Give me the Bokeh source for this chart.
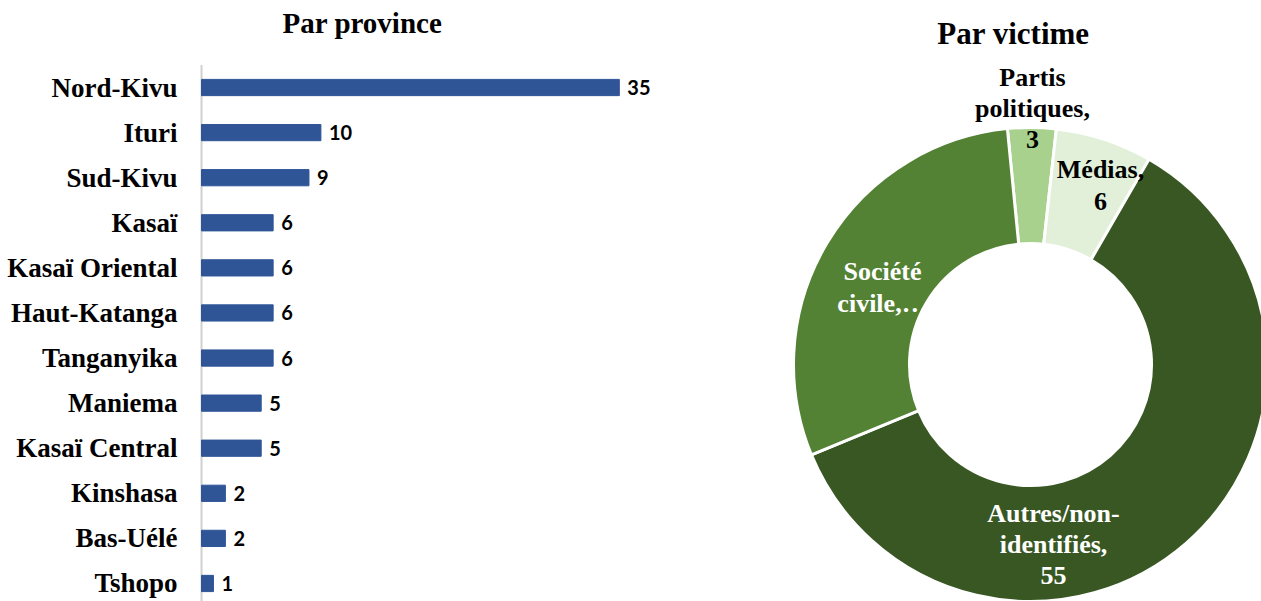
import math
from bokeh.plotting import figure
from bokeh.models import Range1d, ColumnDataSource, FixedTicker
from bokeh.layouts import row
from bokeh.embed import file_html
from bokeh.resources import INLINE
from bokeh.core.properties import value

# ---------------- data ----------------
provinces = ["Nord-Kivu", "Ituri", "Sud-Kivu", "Kasaï", "Kasaï Oriental", "Haut-Katanga",
             "Tanganyika", "Maniema", "Kasaï Central", "Kinshasa", "Bas-Uélé", "Tshopo"]
province_counts = [35, 10, 9, 6, 6, 6, 6, 5, 5, 2, 2, 1]

victims = ["Partis politiques", "Médias", "Autres/non-identifiés", "Société civile"]
victim_counts = [3, 6, 55, 27]
victim_label_fmt = ["Partis\npolitiques,\n{}", "Médias,\n{}", "Autres/non-\nidentifiés,\n{}", "Société\ncivile,…"]

title_left = "Par province"
title_right = "Par victime"

# ---------------- styles ----------------
SERIF = value("Liberation Serif")
BAR_COLOR = "#2F5597"
victim_colors = ["#A9D18E", "#E2F0D9", "#385723", "#548235"]
victim_text_colors = ["black", "black", "white", "white"]
# label anchor positions (donut pixel-like coordinates, centre = 0,0)
victim_label_pos = [(2, 256), (70, 179), (23, -180), (-148, 77)]

# ---------------- bar chart ----------------
n_prov = len(provinces)
ypos = [n_prov - 1 - i for i in range(n_prov)]
bar_src = ColumnDataSource(dict(y=ypos, n=province_counts,
                                lbl=[str(v) for v in province_counts]))

p = figure(width=700, height=601, output_backend="svg", toolbar_location=None,
           x_range=Range1d(-0.17, 41.8), y_range=Range1d(-0.40, 12.93),
           min_border_left=199, min_border_right=0, min_border_top=0, min_border_bottom=0)
# axis line (light grey vertical rule)
p.segment(x0=[0], y0=[-0.40], x1=[0], y1=[n_prov - 0.5], line_color="#D0D0D0", line_width=2)
p.hbar(y="y", right="n", left=0, height=0.36, source=bar_src,
       fill_color=BAR_COLOR, line_color=BAR_COLOR)
p.text(x="n", y="y", text="lbl", source=bar_src, x_offset=8,
       text_baseline="middle", text_align="left",
       text_font=value("Lato"), text_font_style="bold", text_font_size="20px",
       text_color="black")
p.text(x=[13.48], y=[12.43], text=[title_left], text_align="center",
       text_baseline="alphabetic", text_font=SERIF, text_font_style="bold",
       text_font_size="29px", text_color="black")
p.xaxis.visible = False
p.xgrid.visible = False
p.ygrid.visible = False
p.outline_line_color = None
ax = p.yaxis[0]
ax.ticker = FixedTicker(ticks=ypos)
ax.major_label_overrides = {y: name for y, name in zip(ypos, provinces)}
ax.axis_line_color = None
ax.major_tick_line_color = None
ax.minor_tick_line_color = None
ax.major_tick_out = 0
ax.major_tick_in = 0
ax.major_label_standoff = 22
ax.major_label_text_font = "Liberation Serif"
ax.major_label_text_font_style = "bold"
ax.major_label_text_font_size = "27px"
ax.major_label_text_color = "black"

# ---------------- donut ----------------
total = sum(victim_counts)
theta0 = -5.6  # clockwise degrees from 12 o'clock where the first slice starts
starts, ends = [], []
cum = 0
for v in victim_counts:
    a0 = theta0 + cum / total * 360
    cum += v
    a1 = theta0 + cum / total * 360
    starts.append(math.radians(90 - a0))
    ends.append(math.radians(90 - a1))

d_src = ColumnDataSource(dict(name=victims, n=victim_counts, start=starts, end=ends,
                              color=victim_colors))

d = figure(width=561, height=601, output_backend="svg", toolbar_location=None,
           x_range=Range1d(-330, 231), y_range=Range1d(-237, 364), min_border=0)
d.annular_wedge(x=0, y=0, inner_radius=121, outer_radius=237,
                start_angle="start", end_angle="end", direction="clock",
                fill_color="color", line_color="white", line_width=3, source=d_src)

lbl_src = ColumnDataSource(dict(
    x=[pos[0] for pos in victim_label_pos],
    y=[pos[1] for pos in victim_label_pos],
    t=[fmt.format(v) for fmt, v in zip(victim_label_fmt, victim_counts)],
    c=victim_text_colors))
d.text(x="x", y="y", text="t", text_color="c", source=lbl_src,
       text_align="center", text_baseline="middle", text_line_height=1.08,
       text_font=SERIF, text_font_style="bold", text_font_size="26px")
d.text(x=[-17], y=[331], text=[title_right], text_align="center",
       text_baseline="alphabetic", text_font=SERIF, text_font_style="bold",
       text_font_size="31px", text_color="black")
d.axis.visible = False
d.grid.visible = False
d.outline_line_color = None

layout = row(p, d)
open("out.html", "w").write(file_html(layout, INLINE))
